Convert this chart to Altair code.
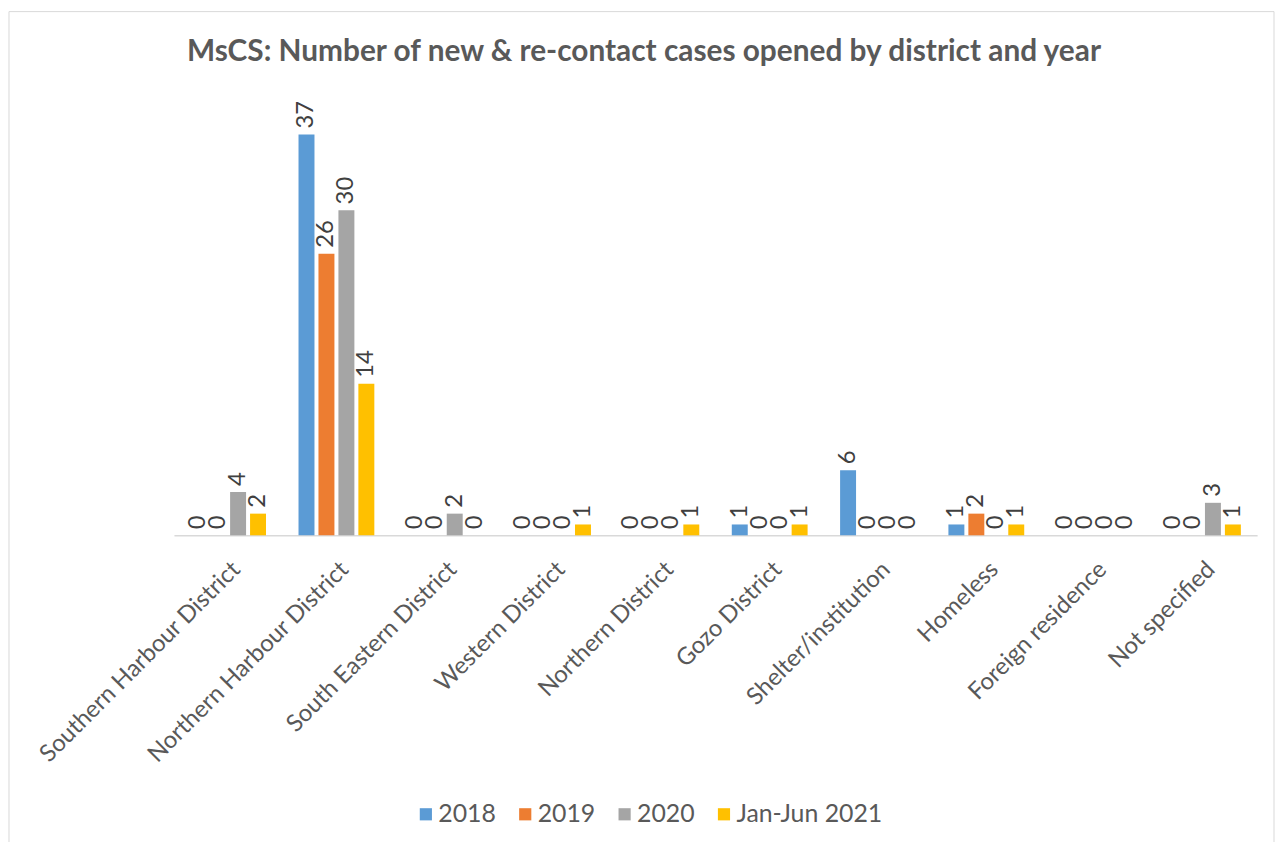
import altair as alt
import pandas as pd

districts = ["Southern Harbour District", "Northern Harbour District", "South Eastern District",
             "Western District", "Northern District", "Gozo District", "Shelter/institution",
             "Homeless", "Foreign residence", "Not specified"]
series = ["2018", "2019", "2020", "Jan-Jun 2021"]
v2018 = [0, 37, 0, 0, 0, 1, 6, 1, 0, 0]
v2019 = [0, 26, 0, 0, 0, 0, 0, 2, 0, 0]
v2020 = [4, 30, 2, 0, 0, 0, 0, 0, 0, 3]
v2021 = [2, 14, 0, 1, 1, 1, 0, 1, 0, 1]
colors = ["#5B9BD5", "#ED7D31", "#A5A5A5", "#FFC000"]
title_text = "MsCS: Number of new & re-contact cases opened by district and year"

rows = []
for s, vals in zip(series, [v2018, v2019, v2020, v2021]):
    for d, v in zip(districts, vals):
        rows.append({"district": d, "series": s, "value": v})
df = pd.DataFrame(rows)

FONT = "Lato"
xenc = alt.X("district:N", sort=districts,
             scale=alt.Scale(paddingInner=0.3, paddingOuter=0.15),
             axis=alt.Axis(title=None, labelAngle=-45, labelFontSize=24, labelColor="#595959",
                           labelFont=FONT, domainColor="#D9D9D9", domainWidth=1.5,
                           ticks=False, labelPadding=22, labelLimit=500))
yenc = alt.Y("value:Q", scale=alt.Scale(domain=[0, 40], nice=False), axis=None)
xoff = alt.XOffset("series:N", sort=series, scale=alt.Scale(paddingInner=0.2, paddingOuter=0))

base = alt.Chart(df)
bars = base.mark_bar().encode(
    x=xenc, y=yenc, xOffset=xoff,
    color=alt.Color("series:N", sort=series,
                    scale=alt.Scale(domain=series, range=colors),
                    legend=alt.Legend(title=None, orient="none", direction="horizontal",
                                      legendX=241, legendY=704, labelFontSize=25,
                                      labelColor="#595959", labelFont=FONT,
                                      symbolType="square", symbolSize=150,
                                      symbolStrokeWidth=0, columnPadding=16, labelOffset=0))
)
labels = base.mark_text(angle=270, align="left", baseline="middle", dx=6,
                        fontSize=24, color="#404040", font=FONT).encode(
    x=xenc, y=yenc, xOffset=xoff, text="value:Q"
)
deco_df = pd.DataFrame({"a": [0]})
border = alt.Chart(deco_df).mark_rect(fill=None, stroke="#D9D9D9", strokeWidth=1).encode(
    x=alt.value(-166), x2=alt.value(1107), y=alt.value(-91), y2=alt.value(750)
)
title = alt.Chart(deco_df).mark_text(fontSize=30, font=FONT, fontWeight="bold", color="#595959",
                                     align="center", baseline="alphabetic").encode(
    x=alt.value(473), y=alt.value(-41), text=alt.value(title_text)
)

chart = alt.layer(border, title, bars, labels).properties(
    width=1090, height=436,
    autosize=alt.AutoSizeParams(type="none"),
    padding={"left": 167, "top": 92, "right": 18, "bottom": 306},
).configure(background="white").configure_view(stroke=None)

chart.save("out.html", embed_options={"renderer": "svg", "actions": False})
